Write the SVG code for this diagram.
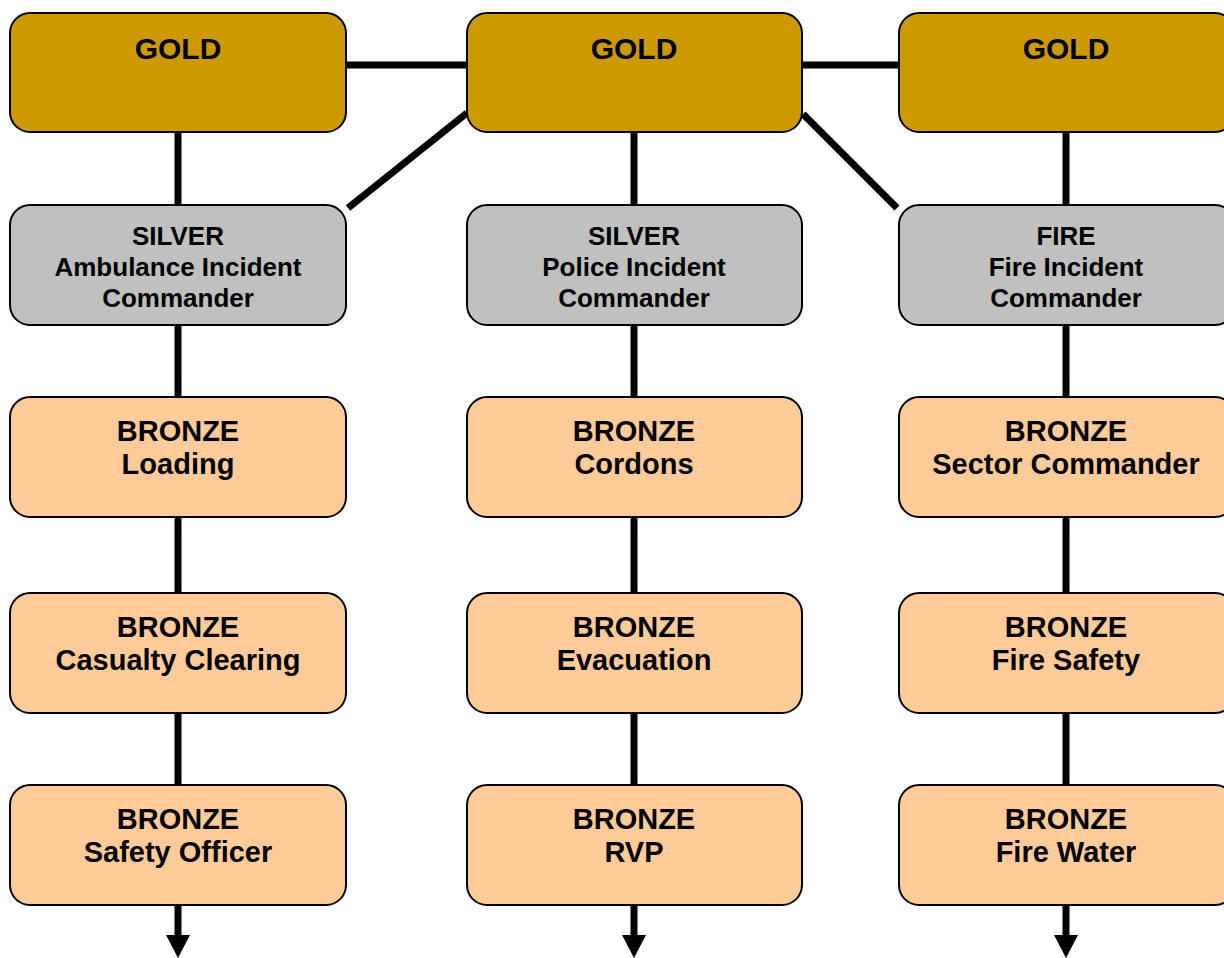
<svg xmlns="http://www.w3.org/2000/svg" width="1224" height="958" viewBox="0 0 1224 958">
  <style>
    .box { stroke: #000; stroke-width: 2; }
    .gold { fill: #CC9900; }
    .silver { fill: #C0C0C0; }
    .bronze { fill: #FFCC99; }
    .t { font-family: "Liberation Sans", Arial, sans-serif; font-weight: bold; fill: #000; text-anchor: middle; }
    .tg { font-size: 30px; }
    .ts { font-size: 26px; }
    .tb { font-size: 29px; }
    .link { stroke: #000; stroke-width: 7; fill: none; }
  </style>
  <defs>
    <marker id="arrow" markerUnits="userSpaceOnUse" markerWidth="24" markerHeight="24" refX="0" refY="12" orient="auto" viewBox="0 0 24 24">
      <path d="M0,0 L23,12 L0,24 Z" fill="#000"/>
    </marker>
  </defs>

  <rect width="1224" height="958" fill="#fff"/>

  <!-- connectors -->
  <g id="connectors">
    <line class="link" x1="346" y1="65" x2="467" y2="65"/>
    <line class="link" x1="802" y1="65" x2="899" y2="65"/>
    <line class="link" x1="467" y1="113" x2="348" y2="208"/>
    <line class="link" x1="803" y1="114" x2="897" y2="208"/>
    <!-- left column -->
    <line class="link" x1="178" y1="132" x2="178" y2="205"/>
    <line class="link" x1="178" y1="325" x2="178" y2="397"/>
    <line class="link" x1="178" y1="517" x2="178" y2="593"/>
    <line class="link" x1="178" y1="713" x2="178" y2="785"/>
    <line class="link" x1="178" y1="905" x2="178" y2="935" marker-end="url(#arrow)"/>
    <!-- middle column -->
    <line class="link" x1="634" y1="132" x2="634" y2="205"/>
    <line class="link" x1="634" y1="325" x2="634" y2="397"/>
    <line class="link" x1="634" y1="517" x2="634" y2="593"/>
    <line class="link" x1="634" y1="713" x2="634" y2="785"/>
    <line class="link" x1="634" y1="905" x2="634" y2="935" marker-end="url(#arrow)"/>
    <!-- right column -->
    <line class="link" x1="1066" y1="132" x2="1066" y2="205"/>
    <line class="link" x1="1066" y1="325" x2="1066" y2="397"/>
    <line class="link" x1="1066" y1="517" x2="1066" y2="593"/>
    <line class="link" x1="1066" y1="713" x2="1066" y2="785"/>
    <line class="link" x1="1066" y1="905" x2="1066" y2="935" marker-end="url(#arrow)"/>
  </g>

  <!-- gold tier -->
  <g id="gold-ambulance">
    <rect class="box gold" x="10" y="13" width="336" height="119" rx="20"/>
    <text class="t tg" x="178" y="59">GOLD</text>
  </g>
  <g id="gold-police">
    <rect class="box gold" x="467" y="13" width="335" height="119" rx="20"/>
    <text class="t tg" x="634" y="59">GOLD</text>
  </g>
  <g id="gold-fire">
    <rect class="box gold" x="899" y="13" width="336" height="119" rx="20"/>
    <text class="t tg" x="1066" y="59">GOLD</text>
  </g>

  <!-- silver tier -->
  <g id="silver-ambulance">
    <rect class="box silver" x="10" y="205" width="336" height="120" rx="20"/>
    <text class="t ts" x="178" y="245">SILVER</text>
    <text class="t ts" x="178" y="276">Ambulance Incident</text>
    <text class="t ts" x="178" y="307">Commander</text>
  </g>
  <g id="silver-police">
    <rect class="box silver" x="467" y="205" width="335" height="120" rx="20"/>
    <text class="t ts" x="634" y="245">SILVER</text>
    <text class="t ts" x="634" y="276">Police Incident</text>
    <text class="t ts" x="634" y="307">Commander</text>
  </g>
  <g id="silver-fire">
    <rect class="box silver" x="899" y="205" width="336" height="120" rx="20"/>
    <text class="t ts" x="1066" y="245">FIRE</text>
    <text class="t ts" x="1066" y="276">Fire Incident</text>
    <text class="t ts" x="1066" y="307">Commander</text>
  </g>

  <!-- bronze tier, row 1 -->
  <g id="bronze-loading">
    <rect class="box bronze" x="10" y="397" width="336" height="120" rx="20"/>
    <text class="t tb" x="178" y="441">BRONZE</text>
    <text class="t tb" x="178" y="474">Loading</text>
  </g>
  <g id="bronze-cordons">
    <rect class="box bronze" x="467" y="397" width="335" height="120" rx="20"/>
    <text class="t tb" x="634" y="441">BRONZE</text>
    <text class="t tb" x="634" y="474">Cordons</text>
  </g>
  <g id="bronze-sector">
    <rect class="box bronze" x="899" y="397" width="336" height="120" rx="20"/>
    <text class="t tb" x="1066" y="441">BRONZE</text>
    <text class="t tb" x="1066" y="474">Sector Commander</text>
  </g>

  <!-- bronze tier, row 2 -->
  <g id="bronze-casualty">
    <rect class="box bronze" x="10" y="593" width="336" height="120" rx="20"/>
    <text class="t tb" x="178" y="637">BRONZE</text>
    <text class="t tb" x="178" y="670">Casualty Clearing</text>
  </g>
  <g id="bronze-evacuation">
    <rect class="box bronze" x="467" y="593" width="335" height="120" rx="20"/>
    <text class="t tb" x="634" y="637">BRONZE</text>
    <text class="t tb" x="634" y="670">Evacuation</text>
  </g>
  <g id="bronze-firesafety">
    <rect class="box bronze" x="899" y="593" width="336" height="120" rx="20"/>
    <text class="t tb" x="1066" y="637">BRONZE</text>
    <text class="t tb" x="1066" y="670">Fire Safety</text>
  </g>

  <!-- bronze tier, row 3 -->
  <g id="bronze-safety">
    <rect class="box bronze" x="10" y="785" width="336" height="120" rx="20"/>
    <text class="t tb" x="178" y="829">BRONZE</text>
    <text class="t tb" x="178" y="862">Safety Officer</text>
  </g>
  <g id="bronze-rvp">
    <rect class="box bronze" x="467" y="785" width="335" height="120" rx="20"/>
    <text class="t tb" x="634" y="829">BRONZE</text>
    <text class="t tb" x="634" y="862">RVP</text>
  </g>
  <g id="bronze-firewater">
    <rect class="box bronze" x="899" y="785" width="336" height="120" rx="20"/>
    <text class="t tb" x="1066" y="829">BRONZE</text>
    <text class="t tb" x="1066" y="862">Fire Water</text>
  </g>
</svg>
